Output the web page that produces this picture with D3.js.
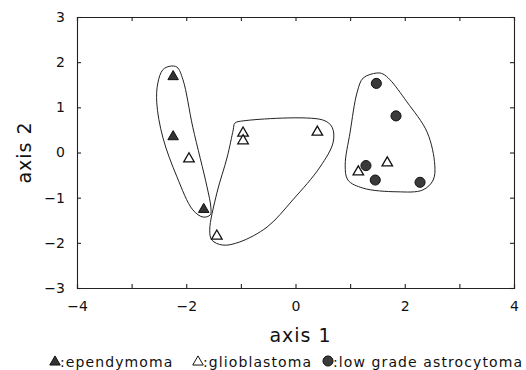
<!DOCTYPE html>
<html>
<head>
<meta charset="utf-8">
<script src="https://cdn.jsdelivr.net/npm/d3@7"></script>
<style>
  body { margin: 0; background: #fff; }
  svg text { font-family: "DejaVu Sans", sans-serif; fill: #111; }
</style>
</head>
<body>
<script>
// Chart size and margins
var svgWidth = 526;
var svgHeight = 370;

var chartMargin = { top: 17, right: 12, bottom: 82, left: 77 };

var chartWidth = svgWidth - chartMargin.left - chartMargin.right;
var chartHeight = svgHeight - chartMargin.top - chartMargin.bottom;

// Data
var xTicks = [-4, -2, 0, 2, 4];
var yTicks = [-3, -2, -1, 0, 1, 2, 3];

var ependymomaX = [-2.24, -2.24, -1.68];
var ependymomaY = [1.68, 0.35, -1.26];

var glioblastomaX = [-1.95, -0.96, -0.96, -1.44, 0.40, 1.68, 1.15];
var glioblastomaY = [-0.14, 0.43, 0.26, -1.85, 0.45, -0.23, -0.43];

var astroX = [1.48, 1.84, 1.29, 1.46, 2.28];
var astroY = [1.53, 0.81, -0.29, -0.61, -0.66];

// cluster outlines (points the closed curve passes through)
var hull1X = [-2.30, -2.17, -2.06, -1.88, -1.62, -1.55, -1.56, -1.69, -1.88, -2.17, -2.43, -2.54, -2.52, -2.43];
var hull1Y = [1.91, 1.89, 1.61, 0.56, -0.76, -1.21, -1.38, -1.43, -1.27, -0.54, 0.34, 1.10, 1.54, 1.83];

var hull2X = [-1.11, -0.96, 0.50, 0.67, 0.69, 0.45, -0.05, -0.52, -1.02, -1.33, -1.53, -1.57, -1.44, -1.25, -1.14];
var hull2Y = [0.65, 0.70, 0.72, 0.56, 0.23, -0.32, -1.05, -1.65, -1.98, -2.05, -1.94, -1.72, -0.90, -0.10, 0.50];

var hull3X = [1.49, 1.60, 1.73, 2.04, 2.41, 2.55, 2.52, 2.33, 1.86, 1.24, 0.96, 0.91, 1.00, 1.13, 1.24];
var hull3Y = [1.76, 1.74, 1.61, 1.12, 0.45, -0.28, -0.61, -0.83, -0.87, -0.79, -0.61, -0.28, 0.45, 1.34, 1.65];

var legendLabels = [":ependymoma", ":glioblastoma", ":low grade astrocytoma"];

function zip(xs, ys) {
  return xs.map((x, i) => [x, ys[i]]);
}

var svg = d3.select("body")
  .append("svg")
  .attr("width", svgWidth)
  .attr("height", svgHeight);

var chartGroup = svg.append("g")
  .attr("transform", `translate(${chartMargin.left}, ${chartMargin.top})`);

var xScale = d3.scaleLinear().domain([-4, 4]).range([0, chartWidth]);
var yScale = d3.scaleLinear().domain([-3, 3]).range([chartHeight, 0]);

var fmt = d => d3.format("")(d).replace("-", "\u2212");

// axes: ticks every unit pointing inward, labels only on bottom/left
var bottomAxis = d3.axisBottom(xScale).ticks(8).tickSize(-4).tickPadding(13)
  .tickFormat(d => xTicks.includes(d) ? fmt(d) : "");
var topAxis = d3.axisTop(xScale).ticks(8).tickSize(-4).tickFormat("");
var leftAxis = d3.axisLeft(yScale).tickValues(yTicks).tickSize(-4).tickPadding(12).tickFormat(fmt);
var rightAxis = d3.axisRight(yScale).tickValues(yTicks).tickSize(-4).tickFormat("");

chartGroup.append("g").attr("transform", `translate(0, ${chartHeight})`).call(bottomAxis);
chartGroup.append("g").call(topAxis);
chartGroup.append("g").call(leftAxis);
chartGroup.append("g").attr("transform", `translate(${chartWidth}, 0)`).call(rightAxis);

chartGroup.selectAll(".domain, .tick line").attr("stroke", "#222").attr("stroke-width", 1.1);
chartGroup.selectAll(".tick text").attr("font-size", 14).style("font-family", "DejaVu Sans, sans-serif").attr("fill", "#111");

// cluster outlines
var line = d3.line()
  .x(d => xScale(d[0]))
  .y(d => yScale(d[1]))
  .curve(d3.curveCatmullRomClosed.alpha(0.5));

[zip(hull1X, hull1Y), zip(hull2X, hull2Y), zip(hull3X, hull3Y)].forEach(function(h) {
  chartGroup.append("path")
    .attr("d", line(h))
    .attr("fill", "none")
    .attr("stroke", "#222")
    .attr("stroke-width", 1);
});

// markers
var tri = d3.symbol().type(d3.symbolTriangle).size(48);
var circ = d3.symbol().type(d3.symbolCircle).size(80);

chartGroup.selectAll(".epe")
  .data(zip(ependymomaX, ependymomaY))
  .enter()
  .append("path")
  .attr("d", tri)
  .attr("transform", d => `translate(${xScale(d[0])}, ${yScale(d[1])})`)
  .attr("fill", "#333")
  .attr("stroke", "#111");

chartGroup.selectAll(".glio")
  .data(zip(glioblastomaX, glioblastomaY))
  .enter()
  .append("path")
  .attr("d", tri)
  .attr("transform", d => `translate(${xScale(d[0])}, ${yScale(d[1])})`)
  .attr("fill", "#fff")
  .attr("stroke", "#111")
  .attr("stroke-width", 1.3);

chartGroup.selectAll(".astro")
  .data(zip(astroX, astroY))
  .enter()
  .append("path")
  .attr("d", circ)
  .attr("transform", d => `translate(${xScale(d[0])}, ${yScale(d[1])})`)
  .attr("fill", "#3a3a3a")
  .attr("stroke", "#111");

// axis titles
svg.append("text")
  .attr("x", chartMargin.left + chartWidth / 2 + 5)
  .attr("y", 342)
  .attr("text-anchor", "middle")
  .attr("font-size", 19)
  .attr("letter-spacing", 1)
  .text("axis 1");

svg.append("text")
  .attr("transform", `translate(31, ${chartMargin.top + chartHeight / 2}) rotate(-90)`)
  .attr("text-anchor", "middle")
  .attr("font-size", 19)
  .attr("letter-spacing", 1)
  .text("axis 2");

// legend
var legendX = [55, 198, 328];
var legendY = 362;
var legend = svg.append("g");

legend.append("path").attr("d", tri).attr("transform", `translate(${legendX[0]}, ${legendY})`)
  .attr("fill", "#333").attr("stroke", "#111");
legend.append("path").attr("d", tri).attr("transform", `translate(${legendX[1]}, ${legendY})`)
  .attr("fill", "#fff").attr("stroke", "#111");
legend.append("path").attr("d", circ).attr("transform", `translate(${legendX[2]}, ${legendY - 1})`)
  .attr("fill", "#3a3a3a").attr("stroke", "#111");

legend.selectAll(".lbl")
  .data(legendLabels)
  .enter()
  .append("text")
  .attr("x", (d, i) => legendX[i] + 5)
  .attr("y", legendY + 5)
  .attr("font-size", 14)
  .attr("letter-spacing", 1.1)
  .text(d => d);
</script>
</body>
</html>
